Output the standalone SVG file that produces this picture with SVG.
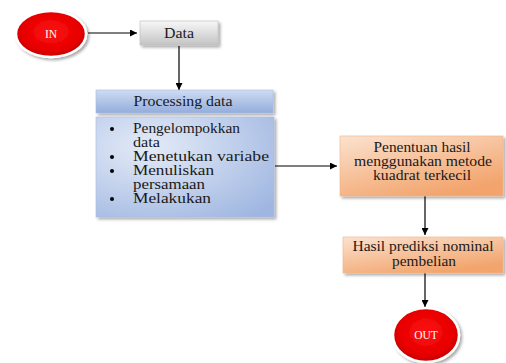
<svg xmlns="http://www.w3.org/2000/svg" width="506" height="363" viewBox="0 0 506 363">
<defs>
<radialGradient id="gRed" cx="50%" cy="45%" r="60%">
<stop offset="0" stop-color="#ff1010"/>
<stop offset="0.7" stop-color="#e60000"/>
<stop offset="1" stop-color="#b30000"/>
</radialGradient>
<linearGradient id="gGray" x1="0" y1="0" x2="0" y2="1">
<stop offset="0" stop-color="#f7f7f7"/>
<stop offset="1" stop-color="#c4c4c4"/>
</linearGradient>
<linearGradient id="gBlueH" x1="0" y1="0" x2="0" y2="1">
<stop offset="0" stop-color="#cfdcf2"/>
<stop offset="1" stop-color="#93addc"/>
</linearGradient>
<radialGradient id="gBlueB" cx="30%" cy="30%" r="90%">
<stop offset="0" stop-color="#e4ebf7"/>
<stop offset="1" stop-color="#9fb6e1"/>
</radialGradient>
<linearGradient id="gOrange" x1="0" y1="0" x2="0.6" y2="1">
<stop offset="0" stop-color="#fbe2cf"/>
<stop offset="1" stop-color="#f2a46c"/>
</linearGradient>
<filter id="sh" x="-20%" y="-20%" width="150%" height="150%">
<feDropShadow dx="2" dy="2" stdDeviation="1.5" flood-color="#000" flood-opacity="0.35"/>
</filter>
<marker id="arr" viewBox="0 0 10 10" refX="10" refY="5" markerWidth="7" markerHeight="7" orient="auto" markerUnits="userSpaceOnUse">
<path d="M0,0 L10,5 L0,10 z" fill="#000"/>
</marker>
</defs>
<style>
text{font-family:"Liberation Serif","Times New Roman",serif;fill:#1a1a1a;}
.lbl{font-size:14px;}
.c{text-anchor:middle;}
.w{fill:#fff;font-size:11.5px;}
.ln{stroke:#000;stroke-width:1.2;fill:none;marker-end:url(#arr);}
</style>
<g id="connectors">
<line class="ln" x1="88" y1="33" x2="137" y2="33"/>
<line class="ln" x1="179" y1="46" x2="179" y2="90"/>
<line class="ln" x1="275" y1="166" x2="337" y2="166"/>
<line class="ln" x1="425" y1="196" x2="425" y2="235"/>
<line class="ln" x1="425" y1="273" x2="425" y2="307"/>
</g>
<g id="in">
<ellipse cx="51" cy="34" rx="35" ry="23" fill="url(#gRed)" stroke="#fff" stroke-width="2.5" filter="url(#sh)"/>
<text class="w c" x="51" y="38">IN</text>
</g>
<g id="data">
<rect x="140" y="21" width="78" height="24" fill="url(#gGray)" stroke="#bbb" stroke-width="0.6" filter="url(#sh)"/>
<text class="lbl c" x="179" y="38" textLength="30" lengthAdjust="spacingAndGlyphs">Data</text>
</g>
<g id="processing">
<rect x="96" y="90" width="177" height="23" fill="url(#gBlueH)" stroke="#a8bce0" stroke-width="0.6" filter="url(#sh)"/>
<text class="lbl c" x="183" y="106" textLength="99" lengthAdjust="spacingAndGlyphs">Processing data</text>
<rect x="96" y="117" width="178" height="100" fill="url(#gBlueB)" stroke="#a8bce0" stroke-width="0.6" filter="url(#sh)"/>
<g fill="#000">
<circle cx="112" cy="129" r="2"/>
<circle cx="112" cy="157" r="2"/>
<circle cx="112" cy="171" r="2"/>
<circle cx="112" cy="199" r="2"/>
</g>
<text class="lbl" x="133" y="133" textLength="107" lengthAdjust="spacingAndGlyphs">Pengelompokkan</text>
<text class="lbl" x="133" y="147" textLength="27" lengthAdjust="spacingAndGlyphs">data</text>
<text class="lbl" x="133" y="161" textLength="136" lengthAdjust="spacingAndGlyphs">Menetukan variabe</text>
<text class="lbl" x="133" y="175" textLength="81" lengthAdjust="spacingAndGlyphs">Menuliskan</text>
<text class="lbl" x="133" y="189" textLength="72" lengthAdjust="spacingAndGlyphs">persamaan</text>
<text class="lbl" x="133" y="203" textLength="78" lengthAdjust="spacingAndGlyphs">Melakukan</text>
</g>
<g id="penentuan">
<rect x="340" y="136" width="163" height="60" fill="url(#gOrange)" stroke="#f0b48a" stroke-width="0.6" filter="url(#sh)"/>
<text class="lbl c" x="422" y="152" textLength="97" lengthAdjust="spacingAndGlyphs">Penentuan hasil</text>
<text class="lbl c" x="423" y="166" textLength="138" lengthAdjust="spacingAndGlyphs">menggunakan metode</text>
<text class="lbl c" x="422" y="180" textLength="98" lengthAdjust="spacingAndGlyphs">kuadrat terkecil</text>
</g>
<g id="hasil">
<rect x="343" y="237" width="160" height="36" fill="url(#gOrange)" stroke="#f0b48a" stroke-width="0.6" filter="url(#sh)"/>
<text class="lbl c" x="423" y="251" textLength="141" lengthAdjust="spacingAndGlyphs">Hasil prediksi nominal</text>
<text class="lbl c" x="424" y="266" textLength="64" lengthAdjust="spacingAndGlyphs">pembelian</text>
</g>
<g id="out">
<ellipse cx="426" cy="335" rx="33" ry="27" fill="url(#gRed)" stroke="#fff" stroke-width="2.5" filter="url(#sh)"/>
<text class="w c" x="426" y="339">OUT</text>
</g>
</svg>
